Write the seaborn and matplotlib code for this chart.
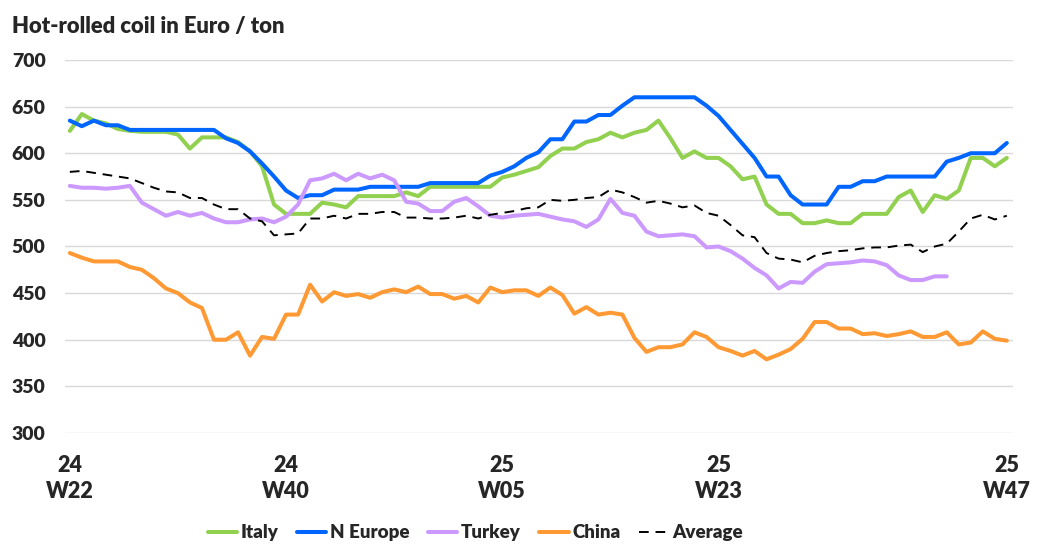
import numpy as np
import pandas as pd
import matplotlib
matplotlib.use("Agg")
import matplotlib.pyplot as plt
import seaborn as sns

# weekly hot-rolled coil prices, 24 W22 .. 25 W47 (79 weeks)
italy = [624, 642, 635, 632, 626, 624, 623, 623, 623, 620, 605, 617, 617, 617, 612, 602, 586, 545, 535, 535,
         535, 547, 545, 542, 554, 554, 554, 554, 558, 554, 564, 564, 564, 564, 564, 564, 574, 577, 581, 585,
         597, 605, 605, 612, 615, 622, 617, 622, 625, 635, 616, 595, 602, 595, 595, 586, 572, 575, 545, 535,
         535, 525, 525, 528, 525, 525, 535, 535, 535, 553, 560, 537, 555, 551, 560, 595, 595, 586, 595]
n_europe = [635, 629, 635, 630, 630, 625, 625, 625, 625, 625, 625, 625, 625, 616, 611, 602, 589, 575, 560, 552,
            555, 555, 561, 561, 561, 564, 564, 564, 564, 564, 568, 568, 568, 568, 568, 576, 580, 586, 595, 601,
            615, 615, 634, 634, 641, 641, 651, 660, 660, 660, 660, 660, 660, 651, 640, 625, 610, 595, 575, 575,
            555, 545, 545, 545, 564, 564, 570, 570, 575, 575, 575, 575, 575, 591, 595, 600, 600, 600, 611]
turkey = [565, 563, 563, 562, 563, 565, 547, 540, 533, 537, 533, 536, 530, 526, 526, 529, 530, 526, 532, 545,
          571, 573, 578, 571, 578, 573, 577, 571, 548, 546, 538, 538, 548, 552, 543, 533, 531, 533, 534, 535,
          532, 529, 527, 521, 529, 551, 536, 533, 516, 511, 512, 513, 511, 499, 500, 495, 487, 477, 469, 455,
          462, 461, 473, 481, 482, 483, 485, 484, 480, 469, 464, 464, 468, 468,
          np.nan, np.nan, np.nan, np.nan, np.nan]
china = [493, 488, 484, 484, 484, 478, 475, 466, 455, 450, 440, 434, 400, 400, 408, 383, 403, 401, 427, 427,
         459, 441, 451, 447, 449, 445, 451, 454, 451, 457, 449, 449, 444, 447, 440, 456, 451, 453, 453, 447,
         456, 448, 428, 435, 427, 429, 427, 402, 387, 392, 392, 395, 408, 403, 392, 388, 383, 388, 379, 384,
         390, 401, 419, 419, 412, 412, 406, 407, 404, 406, 409, 403, 403, 408, 395, 397, 409, 401, 399]
average = [580, 581, 579, 577, 575, 573, 568, 563, 559, 558, 552, 552, 545, 540, 540, 530, 527, 512, 513, 514,
           530, 530, 533, 530, 535, 535, 537, 537, 531, 531, 530, 530, 531, 533, 530, 534, 536, 538, 541, 542,
           550, 549, 550, 552, 553, 561, 558, 553, 547, 549, 546, 542, 544, 536, 533, 523, 512, 510, 493, 487,
           486, 483, 490, 493, 495, 496, 498, 499, 499, 501, 502, 494, 500, 503, 516, 530, 534, 529, 533]

tick_pos = [0, 18, 36, 54, 78]
tick_labels = ["24\nW22", "24\nW40", "25\nW05", "25\nW23", "25\nW47"]

series = {"Italy": italy, "N Europe": n_europe, "Turkey": turkey, "China": china, "Average": average}
colors = {"Italy": "#92D050", "N Europe": "#0066FF", "Turkey": "#CC99FF", "China": "#FF9933", "Average": "black"}

sns.set_theme(style="white")
plt.rcParams["font.family"] = ["Lato", "DejaVu Sans"]
plt.rcParams["font.weight"] = "heavy"

fig = plt.figure(figsize=(10.42, 5.59), dpi=100)
ax = fig.add_axes([0.0624, 0.2254, 0.9096, 0.6673])

week = np.arange(len(italy))
for name, values in series.items():
    df = pd.DataFrame({"week": week, "price": values})
    if name == "Average":
        sns.lineplot(data=df, x="week", y="price", ax=ax, color=colors[name], lw=1.4,
                     dashes=False, linestyle=(0, (5, 3.5)), label=name, estimator=None)
    else:
        sns.lineplot(data=df, x="week", y="price", ax=ax, color=colors[name], lw=2.9,
                     label=name, estimator=None)

ax.set_xlim(-0.4, 78.5)
ax.set_ylim(300, 700)
ax.set_yticks(range(300, 701, 50))
ax.set_xticks(tick_pos)
ax.set_xticklabels(tick_labels, fontsize=15.5, fontweight="heavy", linespacing=1.3)
ax.tick_params(axis="y", labelsize=14, length=0, pad=14)
ax.tick_params(axis="x", length=0, pad=16)
for lab in ax.get_yticklabels():
    lab.set_fontweight("heavy")
ax.set_xlabel("")
ax.set_ylabel("")
ax.yaxis.grid(True, color="#D9D9D9", lw=1)
ax.xaxis.grid(False)
sns.despine(ax=ax, left=True, bottom=True)

fig.text(0.0115, 1 - 27 / 559, "Hot-rolled coil in Euro / ton", fontsize=15.8,
         fontweight="heavy", va="center", ha="left")

ax.legend_.remove()
handles, labels = ax.get_legend_handles_labels()
fig.legend(handles, labels, loc="center", bbox_to_anchor=(0.456, 0.047), ncol=5,
           frameon=False, handlelength=1.55, handletextpad=0.2, columnspacing=1.0,
           prop={"weight": "heavy", "size": 13.5})

fig.savefig("out.png", dpi=100)
